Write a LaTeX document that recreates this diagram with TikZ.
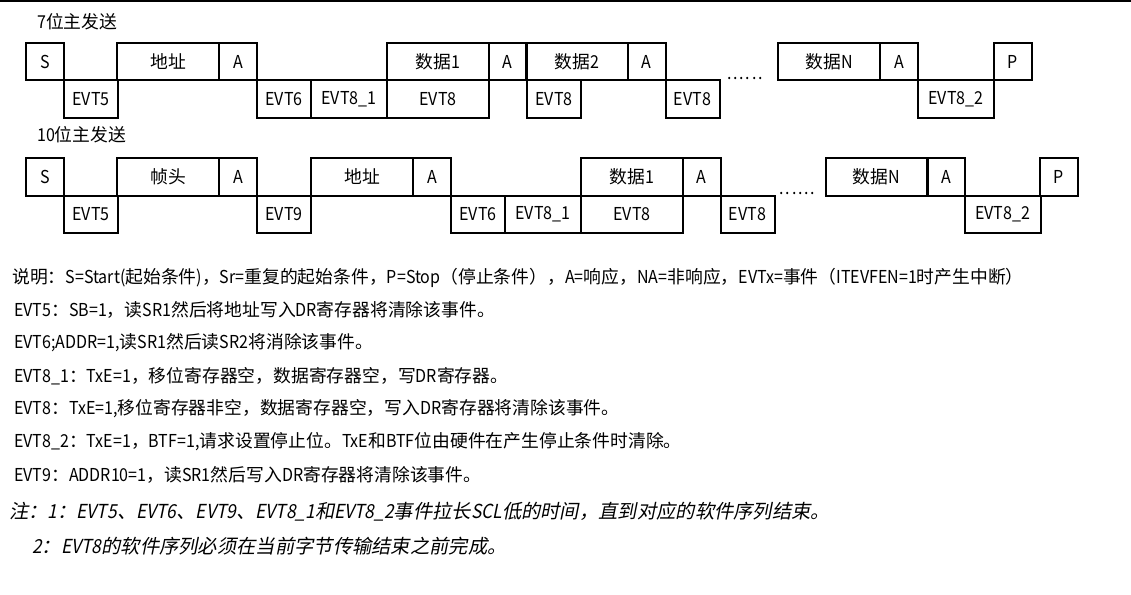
\documentclass[tikz,border=0pt]{standalone}
\usepackage{fontspec}
\setmainfont[FakeStretch=0.9]{Noto Sans CJK SC}
\newfontfamily\cjkup{Noto Sans CJK SC}
\newfontfamily\latup[FakeStretch=0.9]{Noto Sans CJK SC}
\newfontfamily\cjkit[FakeSlant=0.2]{Noto Sans CJK SC}
\newfontfamily\latit[FakeStretch=0.9,FakeSlant=0.2]{Noto Sans CJK SC}
\let\curlat\latup
\let\curcjk\cjkup
% narrow half-width Latin, full-width Han
\XeTeXinterchartokenstate=1
\newXeTeXintercharclass\cjkcls
\newcount\cjkcnt
\def\setcjkrange#1#2{\cjkcnt=#1\relax
  \loop\XeTeXcharclass\cjkcnt=\cjkcls
  \ifnum\cjkcnt<#2\relax\advance\cjkcnt by 1\repeat}
\setcjkrange{"3000}{"303F}
\setcjkrange{"4E00}{"9FFF}
\setcjkrange{"FF00}{"FFEF}
\XeTeXinterchartoks 0 \cjkcls = {\curcjk}
\XeTeXinterchartoks 4095 \cjkcls = {\curcjk}
\XeTeXinterchartoks \cjkcls 0 = {\curlat}
\XeTeXinterchartoks \cjkcls 4095 = {\curlat}
\usepackage{tikz}

\begin{document}
\begin{tikzpicture}[
    x=1pt, y=-1pt,
    font=\fontsize{17.8}{20}\selectfont,
    seg/.style={draw, line width=2pt, minimum height=37.5pt, inner sep=0pt},
    ack/.style={seg, minimum width=38pt},
    evs/.style={seg, minimum width=54pt},
    evl/.style={seg, minimum width=76pt},
    dat/.style={seg, minimum width=102pt},
    dots/.style={inner sep=0pt, font=\fontsize{17.8}{20}\selectfont\addfontfeature{LetterSpace=10}},
    ttl/.style={anchor=west, inner sep=0pt},
    txt/.style={anchor=west, inner sep=0pt},
    nte/.style={anchor=west, inner sep=0pt,
                font=\let\curlat\latit\let\curcjk\cjkit\latit\fontsize{19.3}{22}\selectfont}
  ]
  \useasboundingbox (0,0) rectangle (1131,594);
  \coordinate (topl) at (0,1);
  \coordinate (topr) at (1131,1);
  \draw[line width=2pt] (topl) -- (topr);

  % 7-bit master transmitter
  \node[ttl] (t7) at (37,22) {7位主发送};
  \node[ack] (s1)    at (45,61.5)    {S};
  \node[evs] (ev5a)  at (91,99)      {EVT5};
  \node[dat] (adr1)  at (168,61.5)   {地址};
  \node[ack] (ack1)  at (238,61.5)   {A};
  \node[evs] (ev6a)  at (284,99)     {EVT6};
  \node[evl] (ev81a) at (349,99)     {EVT8\_1};
  \node[dat] (dat1a) at (438,61.5)   {数据1};
  \node[dat] (ev8a)  at (438,99)     {EVT8};
  \node[ack] (ack2)  at (507.5,61.5) {A};
  \node[dat] (dat2a) at (577,61.5)   {数据2};
  \node[evs] (ev8b)  at (554,99)     {EVT8};
  \node[ack] (ack3)  at (646.5,61.5) {A};
  \node[evs] (ev8c)  at (692.5,99)   {EVT8};
  \node[dots] (gap1) at (745,78)     {......};
  \node[dat] (datna) at (829,61.5)   {数据N};
  \node[ack] (ack4)  at (899,61.5)   {A};
  \node[evl] (ev82a) at (956,99)     {EVT8\_2};
  \node[ack] (p1)    at (1013,61.5)  {P};

  % 10-bit master transmitter
  \node[ttl] (t10) at (37,135) {10位主发送};
  \node[ack] (s2)    at (45,177)     {S};
  \node[evs] (ev5b)  at (91,214.5)   {EVT5};
  \node[dat] (hdr)   at (168,177)    {帧头};
  \node[ack] (ack5)  at (238,177)    {A};
  \node[evs] (ev9)   at (284,214.5)  {EVT9};
  \node[dat] (adr2)  at (362,177)    {地址};
  \node[ack] (ack6)  at (432,177)    {A};
  \node[evs] (ev6b)  at (478,214.5)  {EVT6};
  \node[evl] (ev81b) at (543,214.5)  {EVT8\_1};
  \node[dat] (dat1b) at (632,177)    {数据1};
  \node[dat] (ev8d)  at (632,214.5)  {EVT8};
  \node[ack] (ack7)  at (701.5,177)  {A};
  \node[evs] (ev8e)  at (747.5,214.5){EVT8};
  \node[dots] (gap2) at (797.5,193)  {......};
  \node[dat] (datnb) at (876.5,177)  {数据N};
  \node[ack] (ack8)  at (946,177)    {A};
  \node[evl] (ev82b) at (1002.5,214.5){EVT8\_2};
  \node[ack] (p2)    at (1059,177)   {P};

  % legend
  \node[txt] (leg)  at (12,278) {说明：S=Start(起始条件)，Sr=重复的起始条件，P=Stop（停止条件），A=响应，NA=非响应，EVTx=事件（ITEVFEN=1时产生中断）};
  \node[txt] (l5)   at (14,310) {EVT5：SB=1，读SR1然后将地址写入DR寄存器将清除该事件。};
  \node[txt] (l6)   at (14,343) {EVT6;ADDR=1,读SR1然后读SR2将消除该事件。};
  \node[txt] (l81)  at (14,376) {EVT8\_1：TxE=1，移位寄存器空，数据寄存器空，写DR寄存器。};
  \node[txt] (l8)   at (14,409) {EVT8：TxE=1,移位寄存器非空，数据寄存器空，写入DR寄存器将清除该事件。};
  \node[txt] (l82)  at (14,442) {EVT8\_2：TxE=1，BTF=1,请求设置停止位。TxE和BTF位由硬件在产生停止条件时清除。};
  \node[txt] (l9)   at (14,475) {EVT9：ADDR10=1，读SR1然后写入DR寄存器将清除该事件。};
  \node[nte] (n1)   at (9,512)  {注：1：EVT5、EVT6、EVT9、EVT8\_1和EVT8\_2事件拉长SCL低的时间，直到对应的软件序列结束。};
  \node[nte] (n2)   at (32,546) {2：EVT8的软件序列必须在当前字节传输结束之前完成。};
\end{tikzpicture}
\end{document}
